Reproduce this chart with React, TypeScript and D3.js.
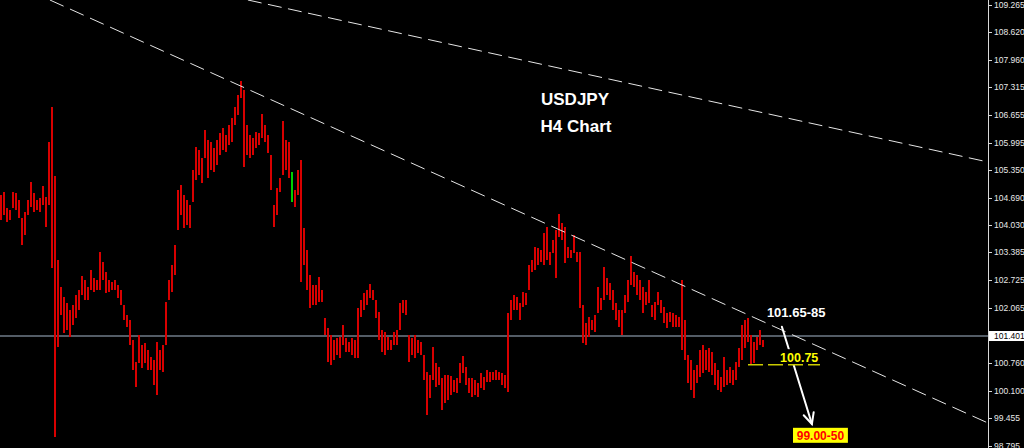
import React from "react";
import * as d3 from "d3";

// ---- data ----
const highs = [
  104.75,104.82,104.44,104.39,104.82,104.80,104.63,104.20,104.35,104.63,
  105.06,104.80,104.63,104.68,104.97,104.70,106.01,106.84,105.20,103.21,
  102.57,102.33,102.18,102.02,102.14,102.38,102.49,102.83,102.73,102.57,
  102.97,102.78,102.73,103.40,103.16,102.92,102.73,102.68,102.73,102.61,
  102.49,102.14,101.90,101.78,101.31,100.78,101.42,101.19,101.23,101.07,
  100.90,100.83,101.26,101.07,101.19,102.21,102.73,103.09,103.56,104.87,
  104.99,104.75,104.63,104.51,105.35,105.89,105.82,105.63,106.30,106.06,
  106.01,105.87,106.06,106.22,106.34,106.18,106.41,106.58,106.84,107.13,
  107.46,107.25,106.41,106.18,106.11,106.25,106.22,106.68,106.41,106.18,
  105.70,104.51,104.92,105.16,106.51,106.06,106.01,105.30,104.87,105.35,
  105.58,103.97,103.44,102.85,102.61,102.61,102.80,102.49,101.83,101.59,
  101.42,101.31,101.35,101.38,101.66,101.35,101.26,101.35,101.31,102.07,
  102.26,102.42,102.49,102.64,102.49,102.26,101.97,101.54,101.50,101.38,
  101.31,101.50,101.54,102.18,102.26,102.26,101.42,101.35,101.42,101.31,
  101.26,100.95,100.55,100.47,101.14,100.76,100.66,100.40,100.47,100.47,
  100.45,100.36,100.40,100.76,100.93,100.66,100.40,100.40,100.36,100.28,
  100.52,100.43,100.59,100.55,100.55,100.59,100.55,100.52,100.47,101.95,
  102.26,102.38,102.33,102.18,102.45,102.42,103.09,103.21,103.52,103.49,
  103.44,103.85,103.99,103.40,103.68,103.92,104.30,104.09,103.99,103.52,
  103.44,103.80,103.40,103.40,102.14,101.71,101.85,101.78,101.90,102.57,
  102.30,103.04,102.78,102.66,102.49,102.18,102.02,102.02,102.38,102.73,
  103.30,102.92,102.85,102.73,102.57,102.45,102.73,102.14,102.21,102.45,
  102.26,102.09,101.95,101.97,101.95,101.90,101.85,102.73,101.78,100.95,
  100.83,100.59,100.71,101.07,101.19,101.07,101.12,101.02,100.76,100.59,
  100.43,100.90,100.59,100.66,100.59,100.78,101.12,101.66,101.78,101.83,
  101.42,101.26,101.38,101.54,101.31,
];
const lows = [
  104.16,104.28,104.11,104.16,104.44,104.39,104.20,103.56,103.80,104.28,
  104.47,104.35,104.39,104.35,104.51,103.99,104.51,103.02,99.00,101.14,
  101.90,101.47,101.54,101.38,101.66,101.83,102.02,102.38,102.26,102.26,
  102.49,102.45,102.49,102.49,102.73,102.42,102.45,102.49,102.49,102.30,
  102.14,101.78,101.61,101.19,100.59,100.19,100.76,100.64,100.76,100.59,
  100.59,100.24,100.00,100.59,100.55,101.19,102.26,102.45,102.85,103.92,
  104.28,103.97,104.04,103.97,104.58,105.11,105.23,105.04,105.63,105.16,
  105.35,105.30,105.46,105.70,105.82,105.77,105.94,106.01,106.41,106.65,
  107.06,105.42,105.70,105.63,105.70,105.87,105.94,106.11,106.01,105.75,
  104.87,103.99,104.28,104.82,105.23,105.35,105.16,104.58,104.47,104.75,
  102.68,103.09,102.49,102.07,102.14,102.14,102.21,102.21,101.42,100.78,
  100.71,100.83,100.95,100.88,101.19,101.02,101.02,100.95,100.88,100.88,
  101.85,102.02,102.14,102.30,102.26,101.83,101.31,101.02,100.95,101.07,
  101.07,101.19,101.19,101.54,101.95,101.90,100.78,100.95,100.88,101.00,
  100.95,100.36,99.52,99.93,100.36,100.19,100.24,99.64,99.81,99.88,
  100.00,100.07,100.05,100.28,100.52,100.24,100.05,99.95,100.00,99.95,
  100.17,100.12,100.31,100.31,100.36,100.36,100.36,100.24,100.17,100.07,
  101.78,102.02,102.02,101.78,102.09,102.14,102.49,102.92,102.97,103.09,
  103.16,103.09,103.21,103.09,103.37,102.78,103.75,103.68,103.14,103.25,
  103.25,103.37,103.16,102.07,101.23,101.19,101.38,101.54,101.50,101.95,
  102.02,102.26,102.38,102.26,102.02,101.78,101.61,101.42,101.95,102.21,
  102.61,102.57,102.38,102.26,101.95,102.14,102.18,101.85,101.78,102.14,
  101.95,101.71,101.59,101.73,101.61,101.61,101.61,101.07,100.83,100.28,
  100.12,99.93,100.28,100.43,100.52,100.59,100.55,100.47,100.24,100.12,
  100.07,100.19,100.24,100.28,100.24,100.36,100.66,100.83,101.12,101.26,
  100.71,100.76,101.07,101.19,101.14,
];
const greenBars = [97];
const axisTicks = [109.265, 108.62, 107.96, 107.315, 106.655, 105.995, 105.35, 104.69, 104.03, 103.385, 102.725, 102.065, 100.76, 100.1, 99.455, 98.795];
const currentPrice = 101.401;
const titleLines = ["USDJPY", "H4 Chart"];
const trendUpper: [number, number][] = [[82.3, 109.384], [329, 105.535]];
const trendLower: [number, number][] = [[16.3, 109.384], [329, 99.334]];
const resistanceText = "101.65-85";
const resistanceAt: [number, number] = [255.3, 101.85];
const supportText = "100.75";
const supportAt: [number, number] = [259.7, 100.78];
const supportLevel = 100.72;
const supportRange: [number, number] = [249, 273];
const targetText = "99.00-50";
const targetRange: [number, number] = [264, 282.3];
const targetPrice = 99.03;
const arrowFrom: [number, number] = [260.3, 101.62];
const arrowTo: [number, number] = [270.3, 99.31];

const W = 1024;
const H = 448;
const AXIS_X = 988;

export default function App() {
  const x = d3.scaleLinear().domain([0, 329]).range([1, AXIS_X]);
  const y = d3.scaleLinear().domain([98.795, 109.265]).range([445.7, 5]);
  const fmt = d3.format(".3f");
  const line = d3.line<[number, number]>().x((d) => x(d[0])).y((d) => y(d[1]));

  // arrow geometry
  const ax0 = x(arrowFrom[0]), ay0 = y(arrowFrom[1]);
  const ax1 = x(arrowTo[0]), ay1 = y(arrowTo[1]);
  const ang = Math.atan2(ay1 - ay0, ax1 - ax0);
  const headLen = 12, spread = 0.45;
  const h1 = [ax1 - headLen * Math.cos(ang - spread), ay1 - headLen * Math.sin(ang - spread)];
  const h2 = [ax1 - headLen * Math.cos(ang + spread), ay1 - headLen * Math.sin(ang + spread)];

  const sx = x(supportAt[0]);
  const sy = y(supportAt[1]);
  const font = "'Liberation Sans', Arial, sans-serif";
  const cpY = y(currentPrice);

  return (
    <svg width={W} height={H} style={{ position: "fixed", left: 0, top: 0, display: "block" }}>
      <defs>
        <clipPath id="plot">
          <rect x={0} y={0} width={AXIS_X} height={H} />
        </clipPath>
      </defs>
      <rect x={0} y={0} width={W} height={H} fill="#000" />

      {/* current price line */}
      <line x1={0} x2={AXIS_X} y1={cpY} y2={cpY} stroke="#6f7b89" strokeWidth={1.5} />

      {/* bars */}
      <g shapeRendering="crispEdges">
        {highs.map((h, i) => (
          <rect
            key={i}
            x={Math.round(x(i)) - 1}
            y={y(h)}
            width={2}
            height={Math.max(1, y(lows[i]) - y(h))}
            fill={greenBars.includes(i) ? "#00d000" : "#d80000"}
          />
        ))}
      </g>

      {/* trend lines */}
      <g clipPath="url(#plot)" fill="none" stroke="#e6e6e6" strokeWidth={1}>
        <path d={line(trendLower) || ""} strokeDasharray="15 7" />
        <path d={line(trendUpper) || ""} strokeDasharray="14 6.5" />
      </g>

      {/* title */}
      <g fill="#fff" fontFamily={font} fontWeight="bold" fontSize={17} textAnchor="middle">
        <text x={575} y={105}>{titleLines[0]}</text>
        <text x={576} y={132}>{titleLines[1]}</text>
      </g>

      {/* arrow */}
      <g stroke="#fff" strokeWidth={2} fill="none" strokeLinecap="round">
        <line x1={ax0} y1={ay0} x2={ax1} y2={ay1} />
        <polyline points={`${h1[0]},${h1[1]} ${ax1},${ay1} ${h2[0]},${h2[1]}`} />
      </g>

      {/* resistance label */}
      <text x={x(resistanceAt[0])} y={y(resistanceAt[1])} fill="#fff" fontFamily={font} fontWeight="bold" fontSize={13}>
        {resistanceText}
      </text>

      {/* support label & level */}
      <rect x={sx - 2} y={sy - 13} width={44} height={15} fill="#000" />
      <line
        x1={x(supportRange[0])}
        x2={x(supportRange[1])}
        y1={y(supportLevel)}
        y2={y(supportLevel)}
        stroke="#caca00"
        strokeWidth={1.5}
        strokeDasharray="15 5"
      />
      <text x={sx} y={sy} fill="#ffff00" fontFamily={font} fontWeight="bold" fontSize={12.5}>
        {supportText}
      </text>

      {/* target label */}
      <rect
        x={x(targetRange[0])}
        y={y(targetPrice) - 8}
        width={x(targetRange[1]) - x(targetRange[0])}
        height={15}
        fill="#ffff00"
      />
      <text
        x={(x(targetRange[0]) + x(targetRange[1])) / 2}
        y={y(targetPrice) + 4}
        fill="#ff0000"
        fontFamily={font}
        fontWeight="bold"
        fontSize={12}
        textAnchor="middle"
      >
        {targetText}
      </text>

      {/* price axis */}
      <line x1={AXIS_X + 0.5} x2={AXIS_X + 0.5} y1={0} y2={H} stroke="#d8d8d8" strokeWidth={1} />
      <g fontFamily={font} fontSize={8.5} fill="#e8e8e8">
        {axisTicks.map((t) => (
          <g key={t}>
            <line x1={AXIS_X} x2={AXIS_X + 4} y1={Math.round(y(t)) + 0.5} y2={Math.round(y(t)) + 0.5} stroke="#d8d8d8" />
            <text x={AXIS_X + 6} y={y(t)} dy="0.35em">{fmt(t)}</text>
          </g>
        ))}
      </g>
      <rect x={AXIS_X + 1} y={cpY - 5} width={W - AXIS_X - 1} height={10} fill="#fff" />
      <text x={AXIS_X + 6} y={cpY} dy="0.35em" fontFamily={font} fontSize={8.5} fill="#000">
        {fmt(currentPrice)}
      </text>
    </svg>
  );
}
